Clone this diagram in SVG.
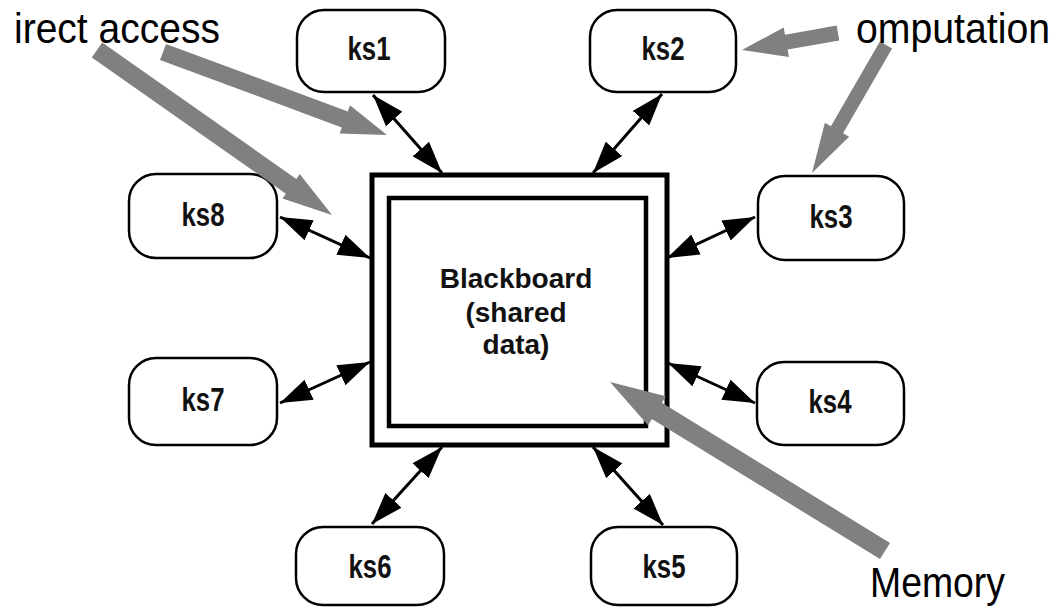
<svg xmlns="http://www.w3.org/2000/svg" width="1057" height="608" viewBox="0 0 1057 608">
  <style>
    .node rect { fill: #ffffff; stroke: #000000; stroke-width: 2.5; }
    .node text { font-family: "Liberation Sans", Arial, sans-serif; font-size: 33px; font-weight: bold; text-anchor: middle; fill: #111111; }
    .link { stroke: #000000; stroke-width: 3; fill: none; marker-start: url(#head); marker-end: url(#head); }
    .callout { fill: #808080; stroke: none; }
    .label { font-family: "Liberation Sans", Arial, sans-serif; font-size: 42px; fill: #000000; }
    .bb text { font-family: "Liberation Sans", Arial, sans-serif; font-size: 28px; font-weight: bold; text-anchor: middle; fill: #111111; }
  </style>
  <defs>
    <marker id="head" markerUnits="userSpaceOnUse" viewBox="0 0 32 22" refX="32" refY="11" markerWidth="32" markerHeight="22" orient="auto-start-reverse">
      <path d="M0,0 L32,11 L0,22 Z" fill="#000000"/>
    </marker>
  </defs>
  <rect width="1057" height="608" fill="#ffffff"/>

  <!-- central blackboard -->
  <g id="blackboard" class="bb">
    <rect x="372" y="175" width="295" height="270" fill="#ffffff" stroke="#000000" stroke-width="5"/>
    <rect x="389" y="198" width="257" height="228" fill="none" stroke="#000000" stroke-width="4.5"/>
    <text x="516" y="288">Blackboard</text>
    <text x="516" y="322">(shared</text>
    <text x="516" y="354">data)</text>
  </g>

  <!-- knowledge sources -->
  <g id="ks1" class="node"><rect x="297" y="10" width="148" height="82" rx="27"/><text x="369" y="60" textLength="43" lengthAdjust="spacingAndGlyphs">ks1</text></g>
  <g id="ks2" class="node"><rect x="590" y="10" width="146" height="82" rx="27"/><text x="663" y="60" textLength="43" lengthAdjust="spacingAndGlyphs">ks2</text></g>
  <g id="ks3" class="node"><rect x="758" y="176" width="146" height="84" rx="27"/><text x="831" y="228" textLength="43" lengthAdjust="spacingAndGlyphs">ks3</text></g>
  <g id="ks4" class="node"><rect x="757" y="362" width="147" height="83" rx="27"/><text x="830" y="413" textLength="43" lengthAdjust="spacingAndGlyphs">ks4</text></g>
  <g id="ks5" class="node"><rect x="591" y="527" width="146" height="78" rx="27"/><text x="664" y="578" textLength="43" lengthAdjust="spacingAndGlyphs">ks5</text></g>
  <g id="ks6" class="node"><rect x="296" y="527" width="148" height="78" rx="27"/><text x="370" y="578" textLength="43" lengthAdjust="spacingAndGlyphs">ks6</text></g>
  <g id="ks7" class="node"><rect x="129" y="358" width="148" height="87" rx="27"/><text x="203" y="411" textLength="43" lengthAdjust="spacingAndGlyphs">ks7</text></g>
  <g id="ks8" class="node"><rect x="129" y="174" width="148" height="84" rx="27"/><text x="203" y="226" textLength="43" lengthAdjust="spacingAndGlyphs">ks8</text></g>

  <!-- read/write connectors -->
  <g id="connectors">
    <line class="link" x1="373" y1="95" x2="442" y2="173"/>
    <line class="link" x1="662" y1="94" x2="593" y2="173"/>
    <line class="link" x1="755" y1="217" x2="667" y2="258"/>
    <line class="link" x1="755" y1="403" x2="668" y2="363"/>
    <line class="link" x1="663" y1="525" x2="593" y2="447"/>
    <line class="link" x1="372" y1="524" x2="442" y2="447"/>
    <line class="link" x1="280" y1="403" x2="370" y2="362"/>
    <line class="link" x1="280" y1="217" x2="370" y2="258"/>
  </g>

  <!-- grey callout arrows -->
  <g id="callouts">
    <polygon class="callout" points="91.8,57.4 285.9,193.7 282.5,198.6 332,215 299.7,174 296.3,178.9 102.2,42.6"/>
    <polygon class="callout" points="160,60 341.8,127.4 339.6,133.5 387,135 350,105.3 347.8,111.4 166,44"/>
    <polygon class="callout" points="836.7,25.6 785,34.8 783.7,27.4 742,50 788.9,56.9 787.6,49.5 839.3,40.4"/>
    <polygon class="callout" points="879.9,41.5 830.9,126.2 824.9,122.7 812,173 849.1,136.7 843.1,133.2 892.1,48.5"/>
    <polygon class="callout" points="890,542.9 661.9,402.7 665.8,396.3 610,382 648,425.3 651.9,418.9 880,559.1"/>
  </g>

  <!-- callout labels -->
  <g id="labels">
    <text class="label" x="14" y="43" textLength="206" lengthAdjust="spacingAndGlyphs">irect access</text>
    <text class="label" x="856" y="43" font-size="39" textLength="194" lengthAdjust="spacingAndGlyphs">omputation</text>
    <text class="label" x="870" y="597" font-size="38" textLength="135" lengthAdjust="spacingAndGlyphs">Memory</text>
  </g>
</svg>
